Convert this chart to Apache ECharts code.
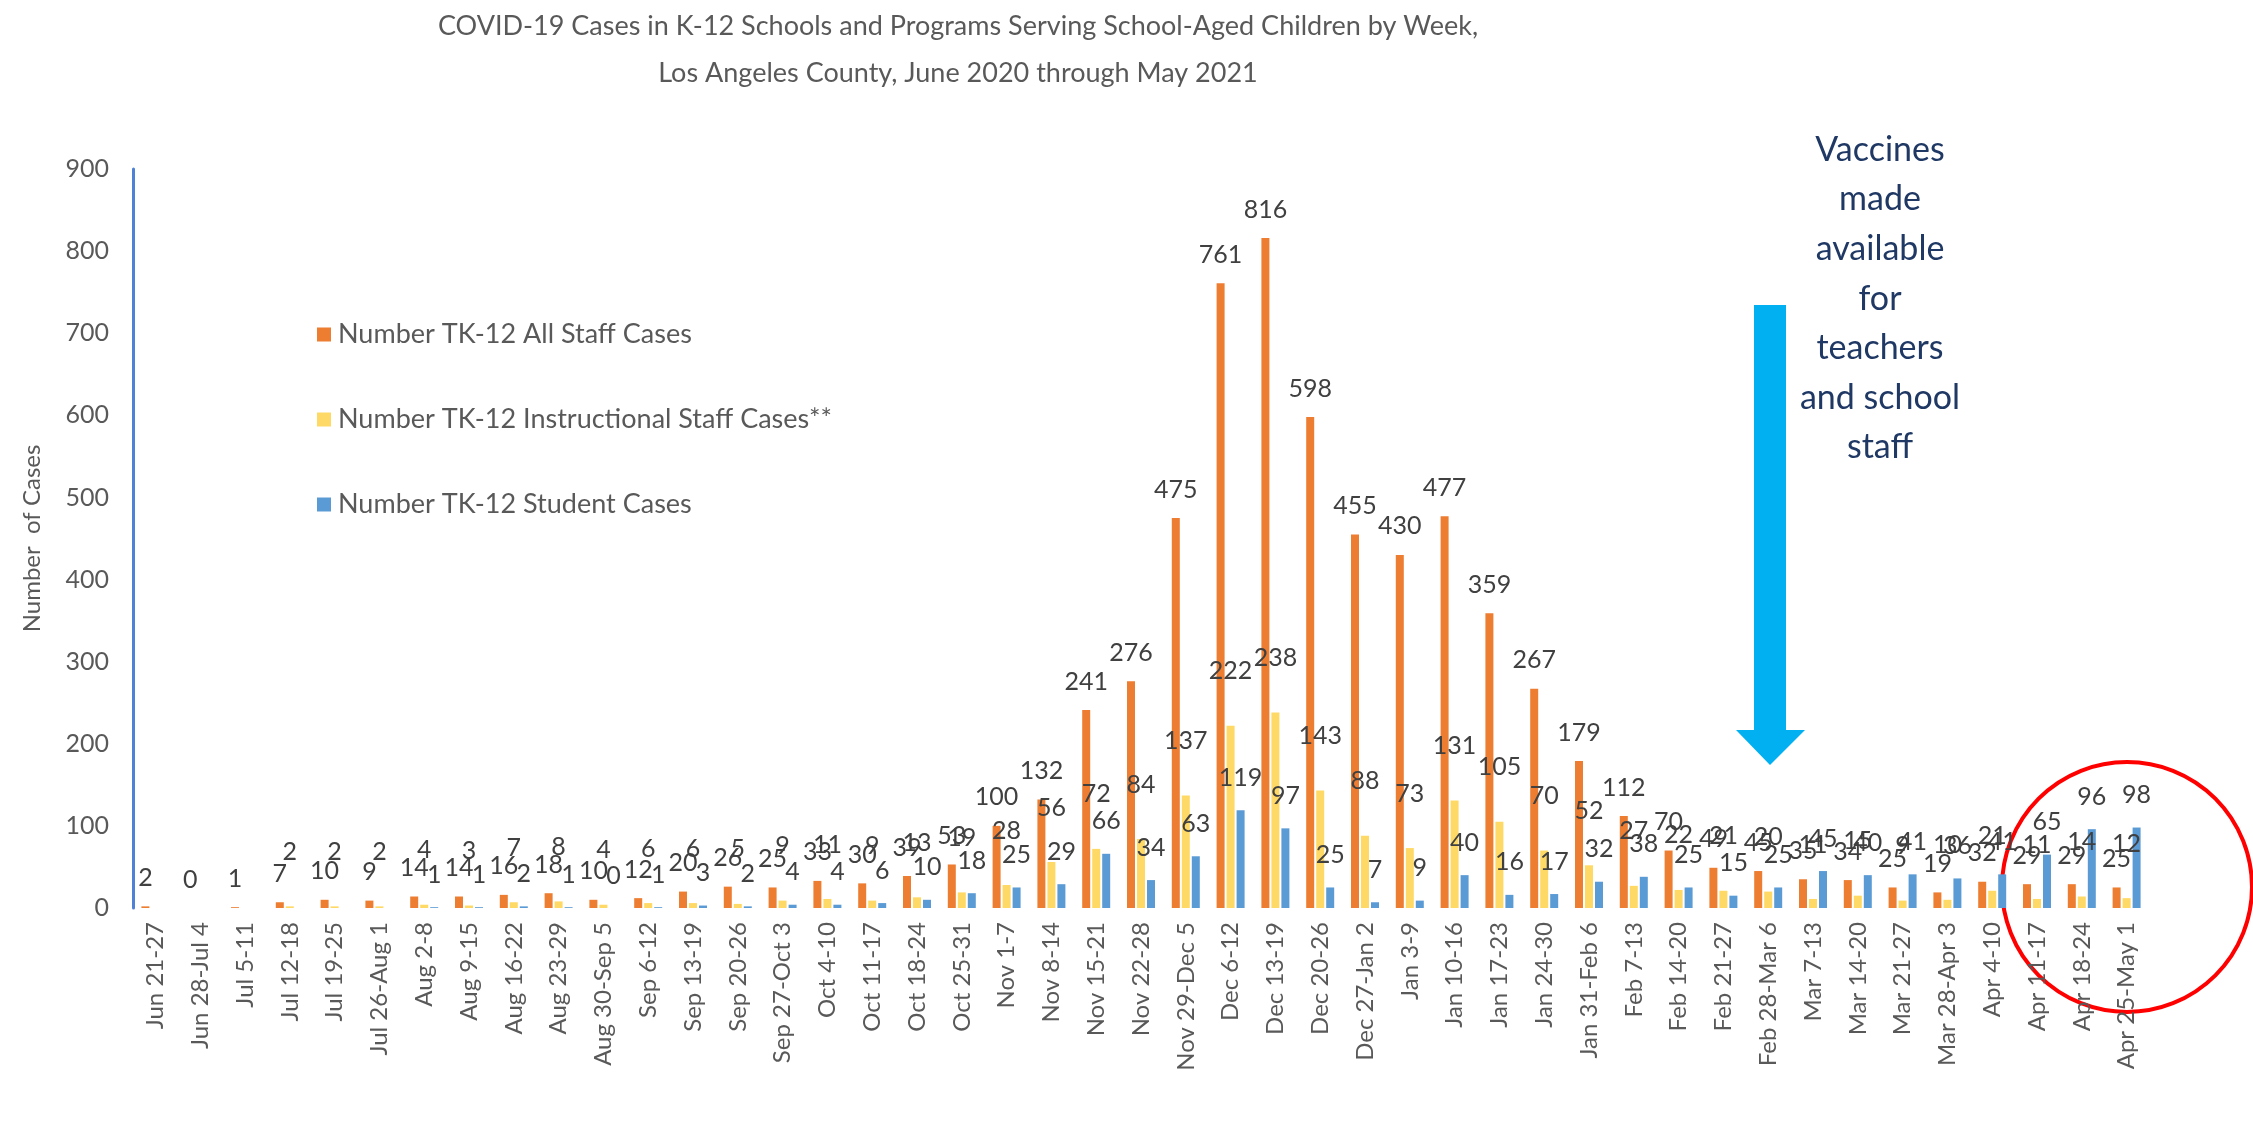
<!DOCTYPE html>
<html>
<head>
<meta charset="utf-8">
<script src="https://cdn.jsdelivr.net/npm/echarts@6/dist/echarts.min.js"></script>
<style>
html,body{margin:0;padding:0;background:#fff;}
#chart{width:2253px;height:1127px;}
</style>
</head>
<body>
<div id="chart"></div>
<script>
const categories = ["Jun 21-27","Jun 28-Jul 4","Jul 5-11","Jul 12-18","Jul 19-25","Jul 26-Aug 1","Aug 2-8","Aug 9-15","Aug 16-22","Aug 23-29","Aug 30-Sep 5","Sep 6-12","Sep 13-19","Sep 20-26","Sep 27-Oct 3","Oct 4-10","Oct 11-17","Oct 18-24","Oct 25-31","Nov 1-7","Nov 8-14","Nov 15-21","Nov 22-28","Nov 29-Dec 5","Dec 6-12","Dec 13-19","Dec 20-26","Dec 27-Jan 2","Jan 3-9","Jan 10-16","Jan 17-23","Jan 24-30","Jan 31-Feb 6","Feb 7-13","Feb 14-20","Feb 21-27","Feb 28-Mar 6","Mar 7-13","Mar 14-20","Mar 21-27","Mar 28-Apr 3","Apr 4-10","Apr 11-17","Apr 18-24","Apr 25-May 1"];
const allStaff = [2,0,1,7,10,9,14,14,16,18,10,12,20,26,25,33,30,39,53,100,132,241,276,475,761,816,598,455,430,477,359,267,179,112,70,49,45,35,34,25,19,32,29,29,25];
const instructionalStaff = [null,null,null,2,2,2,4,3,7,8,4,6,6,5,9,11,9,13,19,28,56,72,84,137,222,238,143,88,73,131,105,70,52,27,22,21,20,11,15,9,10,21,11,14,12];
const students = [null,null,null,null,null,null,1,1,2,1,0,1,3,2,4,4,6,10,18,25,29,66,34,63,119,97,25,7,9,40,16,17,32,38,25,15,25,45,40,41,36,41,65,96,98];
const yTicks = {min:0, max:900, interval:100};
const seriesNames = ["Number TK-12 All Staff Cases","Number TK-12 Instructional Staff Cases**","Number TK-12 Student Cases"];
const titleLines = ["COVID-19 Cases in K-12 Schools and Programs Serving School-Aged Children by Week,","Los Angeles County, June 2020 through May 2021"];
const noteLines = ["Vaccines","made","available","for","teachers","and school","staff"];

const FONT = "Lato, 'Open Sans', sans-serif";
const chart = echarts.init(document.getElementById('chart'));
const lbl = (dist) => ({show:true, position:'top', distance:dist, fontFamily:FONT, fontSize:25, color:'#404040'});
chart.setOption({
  backgroundColor:'#ffffff',
  animation:false,
  title:{
    text:titleLines.join('\n'), left:953, top:-2, textAlign:'center',
    textStyle:{fontFamily:FONT, fontSize:27, fontWeight:'normal', color:'#595959', lineHeight:47}
  },
  legend:{
    orient:'vertical', left:312, top:316, itemGap:58, itemWidth:14, itemHeight:14,
    icon:'rect', data:seriesNames,
    textStyle:{fontFamily:FONT, fontSize:27, color:'#595959', padding:[0,0,0,2]}
  },
  grid:{left:133, right:104, top:169, bottom:219, containLabel:false},
  xAxis:{
    type:'category', data:categories,
    axisLine:{show:false}, axisTick:{show:false},
    axisLabel:{rotate:90, interval:0, margin:14, fontFamily:FONT, fontSize:24, color:'#595959'}
  },
  yAxis:{
    type:'value', min:yTicks.min, max:yTicks.max, interval:yTicks.interval,
    name:'Number  of Cases', nameLocation:'middle', nameGap:89, nameRotate:90,
    nameTextStyle:{fontFamily:FONT, fontSize:24, color:'#595959'},
    axisLine:{show:true, lineStyle:{color:'#4F81D6', width:3}}, axisTick:{show:false},
    splitLine:{show:false},
    axisLabel:{margin:24, fontFamily:FONT, fontSize:25, color:'#595959'}
  },
  series:[
    {name:seriesNames[0], type:'bar', data:allStaff, barWidth:8, barGap:'25%', itemStyle:{color:'#ED7D31'}, label:lbl(16)},
    {name:seriesNames[1], type:'bar', data:instructionalStaff, barWidth:8, barGap:'25%', itemStyle:{color:'#FFD966'}, label:lbl(42)},
    {name:seriesNames[2], type:'bar', data:students, barWidth:8, barGap:'25%', itemStyle:{color:'#5B9BD5'}, label:lbl(20)}
  ],
  graphic:[
    {type:'rect', shape:{x:1754, y:305, width:32, height:426}, style:{fill:'#00B0F0'}},
    {type:'polygon', shape:{points:[[1736,730],[1805,730],[1770,765]]}, style:{fill:'#00B0F0'}},
    {type:'text', x:1880, y:125, style:{text:noteLines.join('\n'), textAlign:'center', textVerticalAlign:'top', fontFamily:FONT, fontSize:34, lineHeight:49.6, fill:'#1F3864'}},
    {type:'circle', shape:{cx:2127, cy:887, r:125}, style:{fill:'none', stroke:'#FF0000', lineWidth:4}}
  ]
});
</script>
</body>
</html>
